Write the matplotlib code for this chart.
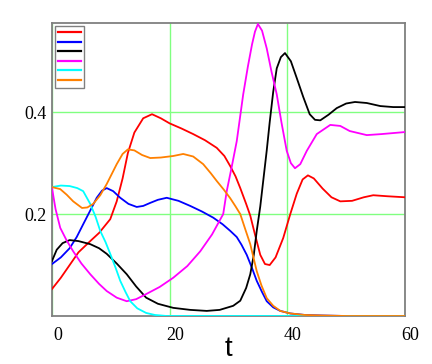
import matplotlib
matplotlib.use("Agg")
import matplotlib.pyplot as plt
import matplotlib.transforms as mtransforms
from matplotlib.lines import Line2D

# ---- data ----
t_red = [0, 1.5, 3, 4.5, 6.5, 8, 9.9, 11, 12, 12.9, 14, 15.5, 17, 18.5, 20, 22, 24, 26, 28, 29.3, 30.3, 31.2, 32, 33, 33.7, 34.5, 35.4, 36.2, 37, 38, 39.3, 40.5, 41.6, 42.6, 43.5, 44.5, 46, 47.5, 49, 51, 53, 54.6, 57, 60]
v_red = [0.053, 0.075, 0.1, 0.125, 0.147, 0.163, 0.19, 0.225, 0.27, 0.32, 0.36, 0.388, 0.396, 0.388, 0.378, 0.368, 0.357, 0.345, 0.33, 0.314, 0.294, 0.274, 0.251, 0.22, 0.197, 0.16, 0.12, 0.102, 0.1, 0.115, 0.153, 0.2, 0.24, 0.268, 0.276, 0.27, 0.25, 0.233, 0.225, 0.226, 0.233, 0.237, 0.235, 0.233]

t_blue = [0, 1.5, 3, 4.2, 5.3, 6.5, 7.6, 8.5, 9.3, 10.4, 11.6, 13, 14.4, 15.5, 16.7, 18, 19.5, 21.5, 23.5, 25.5, 27.4, 29, 30.3, 31.4, 32.2, 33.1, 34, 34.8, 35.7, 36.5, 37.6, 38.8, 40.5, 43, 46, 50, 60]
v_blue = [0.102, 0.115, 0.133, 0.155, 0.18, 0.207, 0.232, 0.246, 0.251, 0.245, 0.232, 0.22, 0.214, 0.216, 0.222, 0.228, 0.232, 0.226, 0.216, 0.205, 0.193, 0.18, 0.167, 0.155, 0.14, 0.12, 0.094, 0.069, 0.047, 0.029, 0.017, 0.01, 0.005, 0.002, 0.001, 0.0, 0.0]

t_black = [0, 0.8, 1.8, 3, 4.5, 6.5, 8, 9.3, 11, 12.7, 14.3, 16, 18, 20.6, 23.5, 26.3, 28.5, 30.8, 32, 33, 33.7, 34.3, 34.8, 35.4, 35.9, 36.5, 37, 37.6, 38.2, 38.9, 39.6, 40.6, 41.6, 42.7, 43.8, 44.7, 45.6, 47, 48.4, 50, 51.5, 53.5, 55.8, 58, 60]
v_black = [0.108, 0.13, 0.143, 0.149, 0.147, 0.141, 0.133, 0.122, 0.103, 0.082, 0.058, 0.036, 0.024, 0.016, 0.012, 0.01, 0.012, 0.02, 0.03, 0.055, 0.082, 0.12, 0.167, 0.215, 0.265, 0.325, 0.38, 0.44, 0.486, 0.508, 0.516, 0.5, 0.467, 0.43, 0.396, 0.385, 0.384, 0.395, 0.408, 0.417, 0.42, 0.418, 0.412, 0.41, 0.41]

t_mag = [0, 0.6, 1.4, 2.5, 3.6, 5, 6.5, 8, 9.3, 11, 12.7, 14.3, 16, 18.3, 20.6, 23, 25.2, 27.2, 29.1, 29.7, 30.5, 31.4, 32.5, 33.3, 34, 34.5, 35, 35.7, 36.5, 37.3, 38.2, 39, 39.9, 40.6, 41.3, 42.2, 43.3, 45, 47.3, 49, 50.6, 53.5, 56, 60]
v_mag = [0.251, 0.21, 0.173, 0.148, 0.127, 0.103, 0.082, 0.063, 0.049, 0.036, 0.029, 0.033, 0.043, 0.057, 0.075, 0.098, 0.127, 0.16, 0.2, 0.245, 0.29, 0.343, 0.435, 0.49, 0.533, 0.558, 0.573, 0.56, 0.525, 0.48, 0.435, 0.38, 0.324, 0.3, 0.29, 0.298, 0.324, 0.357, 0.375, 0.373, 0.363, 0.355, 0.357, 0.361]

t_cyan = [0, 1.5, 3, 4.3, 5.3, 6.5, 7.4, 8.2, 9.1, 9.9, 10.8, 11.6, 12.5, 13.3, 14.5, 16, 17.5, 19.5, 25, 40, 60]
v_cyan = [0.253, 0.256, 0.255, 0.251, 0.245, 0.22, 0.195, 0.167, 0.145, 0.122, 0.095, 0.069, 0.047, 0.029, 0.015, 0.006, 0.002, 0.0, 0.0, 0.0, 0.0]

t_orange = [0, 1.4, 2.5, 3.6, 5.1, 6, 7, 8.2, 9.3, 11, 12, 12.9, 14, 15.3, 16.7, 18.5, 20.6, 22.3, 24, 25.7, 27, 28, 29.2, 30.3, 31.2, 32, 32.8, 33.7, 34.3, 34.8, 35.6, 36.5, 37.6, 38.8, 40.5, 43, 46, 50, 60]
v_orange = [0.253, 0.249, 0.238, 0.225, 0.212, 0.213, 0.22, 0.237, 0.259, 0.298, 0.318, 0.327, 0.325, 0.316, 0.31, 0.311, 0.314, 0.318, 0.313, 0.298, 0.28, 0.265, 0.248, 0.231, 0.215, 0.2, 0.172, 0.141, 0.112, 0.088, 0.06, 0.035, 0.02, 0.01, 0.005, 0.002, 0.001, 0.0, 0.0]

x_ticks = [0, 20, 40, 60]
y_ticks = [0.2, 0.4]
y_tick_labels = ["0.2", "0.4"]
x_label = "t"

series = [
    (t_red, v_red, "#ff0000"),
    (t_blue, v_blue, "#0000ff"),
    (t_black, v_black, "#000000"),
    (t_mag, v_mag, "#ff00ff"),
    (t_cyan, v_cyan, "#00ffff"),
    (t_orange, v_orange, "#ff8000"),
]

fig = plt.figure(figsize=(4.32, 3.64), dpi=100)
ax = fig.add_axes([52/432, 1 - 316/364, (405 - 52)/432, (316 - 23)/364])

handles = []
for t, v, c in series:
    ax.plot(t, v, color=c, lw=1.3, zorder=3, solid_joinstyle="round")
    handles.append(Line2D([], [], color=c, lw=1.6))

ax.set_xlim(0, 60)
ax.set_ylim(0, 0.575)
ax.set_xticks(x_ticks)
ax.set_xticklabels([str(v) for v in x_ticks])
ax.set_yticks(y_ticks)
ax.set_yticklabels(y_tick_labels)
ax.grid(True, color="#80ff80", lw=1.0, zorder=1)
for s in ax.spines.values():
    s.set_color("#808080")
    s.set_linewidth(1.3)
ax.tick_params(axis="both", length=0, labelsize=13)
ax.tick_params(axis="x", pad=8)
ax.tick_params(axis="y", pad=4)
for lab in ax.get_xticklabels() + ax.get_yticklabels():
    lab.set_family("Liberation Serif")
offset = mtransforms.ScaledTranslation(4/72, 0, fig.dpi_scale_trans)
for lab in ax.get_xticklabels():
    lab.set_transform(lab.get_transform() + offset)

ax.set_xlabel(x_label, family="Liberation Sans", fontsize=20, labelpad=-6)

leg = ax.legend(handles, [""] * 6, loc="upper left", fontsize=6.8,
                handlelength=2.5, handletextpad=0, labelspacing=0.05,
                borderpad=0.3, borderaxespad=0.3, fancybox=False,
                framealpha=1, edgecolor="#808080")
leg.get_frame().set_linewidth(1.0)

fig.savefig("out.png", dpi=100)
